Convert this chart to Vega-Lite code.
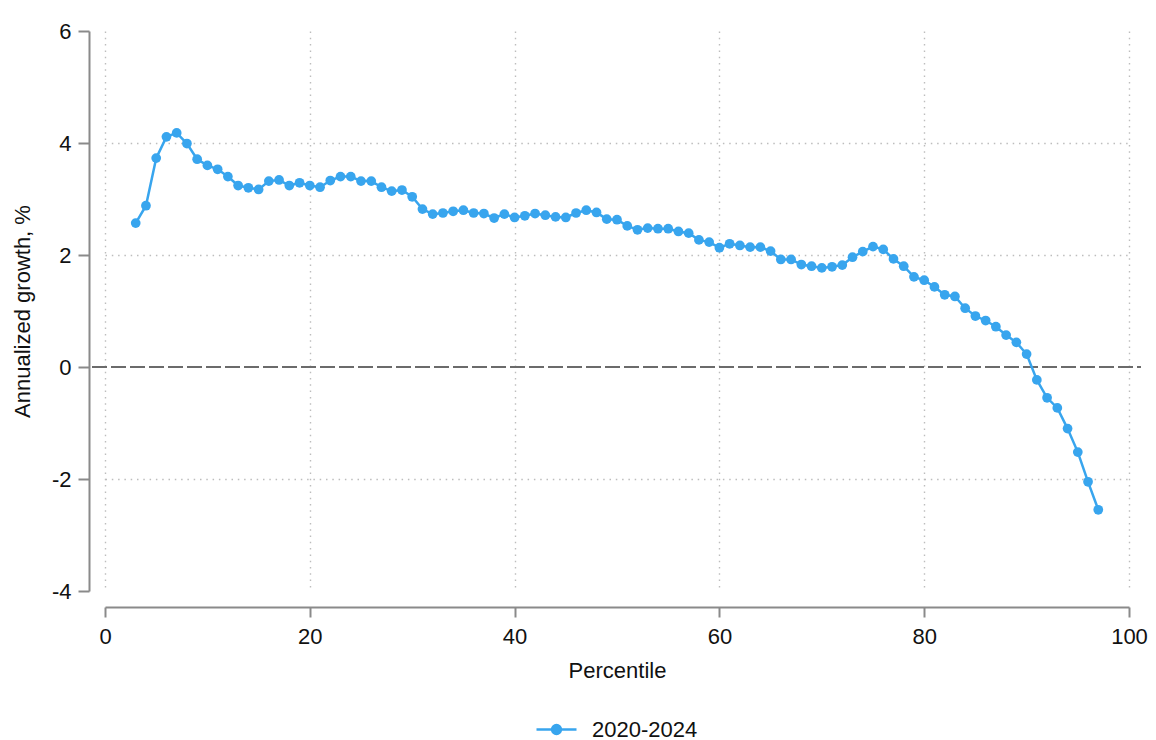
{
  "$schema": "https://vega.github.io/schema/vega-lite/v6.json",
  "width": 1024,
  "height": 560,
  "autosize": "none",
  "padding": {"left": 105, "top": 31, "right": 27, "bottom": 149},
  "background": "white",
  "config": {
    "view": {"stroke": null},
    "font": "Liberation Sans",
    "axis": {
      "labelFont": "Liberation Sans",
      "titleFont": "Liberation Sans",
      "labelFontSize": 22,
      "titleFontSize": 22,
      "labelColor": "#111111",
      "titleColor": "#111111",
      "titleFontWeight": "normal",
      "domainColor": "#8a8a8a",
      "domainWidth": 2,
      "tickColor": "#8a8a8a",
      "tickWidth": 2,
      "gridColor": "#bdbdbd",
      "gridWidth": 1.4,
      "gridDash": [1.5, 4.8],
      "labelExpr": "replace(datum.label, '\u2212', '-')"
    },
    "legend": {
      "labelFont": "Liberation Sans",
      "labelFontSize": 22,
      "labelColor": "#111111"
    }
  },
  "data": {
    "values": [
      {"p": 3, "g": 2.57, "series": "2020-2024"},
      {"p": 4, "g": 2.88, "series": "2020-2024"},
      {"p": 5, "g": 3.73, "series": "2020-2024"},
      {"p": 6, "g": 4.11, "series": "2020-2024"},
      {"p": 7, "g": 4.18, "series": "2020-2024"},
      {"p": 8, "g": 3.99, "series": "2020-2024"},
      {"p": 9, "g": 3.71, "series": "2020-2024"},
      {"p": 10, "g": 3.60, "series": "2020-2024"},
      {"p": 11, "g": 3.53, "series": "2020-2024"},
      {"p": 12, "g": 3.40, "series": "2020-2024"},
      {"p": 13, "g": 3.24, "series": "2020-2024"},
      {"p": 14, "g": 3.20, "series": "2020-2024"},
      {"p": 15, "g": 3.17, "series": "2020-2024"},
      {"p": 16, "g": 3.32, "series": "2020-2024"},
      {"p": 17, "g": 3.34, "series": "2020-2024"},
      {"p": 18, "g": 3.24, "series": "2020-2024"},
      {"p": 19, "g": 3.29, "series": "2020-2024"},
      {"p": 20, "g": 3.24, "series": "2020-2024"},
      {"p": 21, "g": 3.21, "series": "2020-2024"},
      {"p": 22, "g": 3.33, "series": "2020-2024"},
      {"p": 23, "g": 3.40, "series": "2020-2024"},
      {"p": 24, "g": 3.40, "series": "2020-2024"},
      {"p": 25, "g": 3.32, "series": "2020-2024"},
      {"p": 26, "g": 3.32, "series": "2020-2024"},
      {"p": 27, "g": 3.21, "series": "2020-2024"},
      {"p": 28, "g": 3.14, "series": "2020-2024"},
      {"p": 29, "g": 3.16, "series": "2020-2024"},
      {"p": 30, "g": 3.04, "series": "2020-2024"},
      {"p": 31, "g": 2.82, "series": "2020-2024"},
      {"p": 32, "g": 2.73, "series": "2020-2024"},
      {"p": 33, "g": 2.75, "series": "2020-2024"},
      {"p": 34, "g": 2.78, "series": "2020-2024"},
      {"p": 35, "g": 2.80, "series": "2020-2024"},
      {"p": 36, "g": 2.75, "series": "2020-2024"},
      {"p": 37, "g": 2.74, "series": "2020-2024"},
      {"p": 38, "g": 2.66, "series": "2020-2024"},
      {"p": 39, "g": 2.73, "series": "2020-2024"},
      {"p": 40, "g": 2.67, "series": "2020-2024"},
      {"p": 41, "g": 2.70, "series": "2020-2024"},
      {"p": 42, "g": 2.74, "series": "2020-2024"},
      {"p": 43, "g": 2.71, "series": "2020-2024"},
      {"p": 44, "g": 2.68, "series": "2020-2024"},
      {"p": 45, "g": 2.67, "series": "2020-2024"},
      {"p": 46, "g": 2.75, "series": "2020-2024"},
      {"p": 47, "g": 2.80, "series": "2020-2024"},
      {"p": 48, "g": 2.76, "series": "2020-2024"},
      {"p": 49, "g": 2.64, "series": "2020-2024"},
      {"p": 50, "g": 2.63, "series": "2020-2024"},
      {"p": 51, "g": 2.52, "series": "2020-2024"},
      {"p": 52, "g": 2.45, "series": "2020-2024"},
      {"p": 53, "g": 2.48, "series": "2020-2024"},
      {"p": 54, "g": 2.47, "series": "2020-2024"},
      {"p": 55, "g": 2.47, "series": "2020-2024"},
      {"p": 56, "g": 2.42, "series": "2020-2024"},
      {"p": 57, "g": 2.39, "series": "2020-2024"},
      {"p": 58, "g": 2.27, "series": "2020-2024"},
      {"p": 59, "g": 2.23, "series": "2020-2024"},
      {"p": 60, "g": 2.13, "series": "2020-2024"},
      {"p": 61, "g": 2.20, "series": "2020-2024"},
      {"p": 62, "g": 2.17, "series": "2020-2024"},
      {"p": 63, "g": 2.14, "series": "2020-2024"},
      {"p": 64, "g": 2.14, "series": "2020-2024"},
      {"p": 65, "g": 2.07, "series": "2020-2024"},
      {"p": 66, "g": 1.92, "series": "2020-2024"},
      {"p": 67, "g": 1.92, "series": "2020-2024"},
      {"p": 68, "g": 1.83, "series": "2020-2024"},
      {"p": 69, "g": 1.80, "series": "2020-2024"},
      {"p": 70, "g": 1.77, "series": "2020-2024"},
      {"p": 71, "g": 1.79, "series": "2020-2024"},
      {"p": 72, "g": 1.82, "series": "2020-2024"},
      {"p": 73, "g": 1.96, "series": "2020-2024"},
      {"p": 74, "g": 2.06, "series": "2020-2024"},
      {"p": 75, "g": 2.15, "series": "2020-2024"},
      {"p": 76, "g": 2.10, "series": "2020-2024"},
      {"p": 77, "g": 1.93, "series": "2020-2024"},
      {"p": 78, "g": 1.80, "series": "2020-2024"},
      {"p": 79, "g": 1.61, "series": "2020-2024"},
      {"p": 80, "g": 1.55, "series": "2020-2024"},
      {"p": 81, "g": 1.43, "series": "2020-2024"},
      {"p": 82, "g": 1.29, "series": "2020-2024"},
      {"p": 83, "g": 1.26, "series": "2020-2024"},
      {"p": 84, "g": 1.05, "series": "2020-2024"},
      {"p": 85, "g": 0.91, "series": "2020-2024"},
      {"p": 86, "g": 0.83, "series": "2020-2024"},
      {"p": 87, "g": 0.72, "series": "2020-2024"},
      {"p": 88, "g": 0.57, "series": "2020-2024"},
      {"p": 89, "g": 0.44, "series": "2020-2024"},
      {"p": 90, "g": 0.23, "series": "2020-2024"},
      {"p": 91, "g": -0.23, "series": "2020-2024"},
      {"p": 92, "g": -0.55, "series": "2020-2024"},
      {"p": 93, "g": -0.73, "series": "2020-2024"},
      {"p": 94, "g": -1.10, "series": "2020-2024"},
      {"p": 95, "g": -1.52, "series": "2020-2024"},
      {"p": 96, "g": -2.05, "series": "2020-2024"},
      {"p": 97, "g": -2.55, "series": "2020-2024"}
    ]
  },
  "encoding": {
    "x": {
      "field": "p",
      "type": "quantitative",
      "title": "Percentile",
      "scale": {"domain": [0, 100], "nice": false, "zero": false},
      "axis": {
        "values": [0, 20, 40, 60, 80, 100],
        "offset": 16,
        "tickSize": 10,
        "labelPadding": 9,
        "titlePadding": 13,
        "labelFlush": false
      }
    },
    "y": {
      "field": "g",
      "type": "quantitative",
      "title": "Annualized growth, %",
      "scale": {"domain": [-4, 6], "nice": false, "zero": false},
      "axis": {
        "values": [-4, -2, 0, 2, 4, 6],
        "offset": 16,
        "tickSize": 11,
        "labelPadding": 7,
        "titlePadding": 17,
        "labelFlush": false,
        "gridOpacity": {"condition": {"test": "datum.value === 6 || datum.value === -4 || datum.value === 0", "value": 0}, "value": 1}
      }
    }
  },
  "layer": [
    {
      "mark": {"type": "rule", "color": "#6b6b6b", "strokeWidth": 2, "strokeDash": [14, 5], "clip": false},
      "encoding": {
        "x": {"datum": -1.2},
        "x2": {"datum": 101.1},
        "y": {"datum": 0}
      }
    },
    {
      "mark": {"type": "line", "strokeWidth": 2.5, "interpolate": "linear"},
      "encoding": {
        "color": {
          "field": "series",
          "type": "nominal",
          "scale": {"range": ["#38a5ee"]},
          "legend": {
            "title": null,
            "orient": "none",
            "legendX": 430,
            "legendY": 677,
            "symbolType": "M-1,0L1,0M-0.22,0A0.22,0.22,0,1,0,0.22,0A0.22,0.22,0,1,0,-0.22,0Z",
            "symbolSize": 1600,
            "symbolStrokeWidth": 2.5,
            "symbolFillColor": "#38a5ee",
            "symbolStrokeColor": "#38a5ee",
            "labelOffset": 14
          }
        }
      }
    },
    {
      "mark": {"type": "point", "filled": true, "size": 95, "opacity": 1},
      "encoding": {
        "color": {"field": "series", "type": "nominal", "legend": null}
      }
    }
  ]
}
